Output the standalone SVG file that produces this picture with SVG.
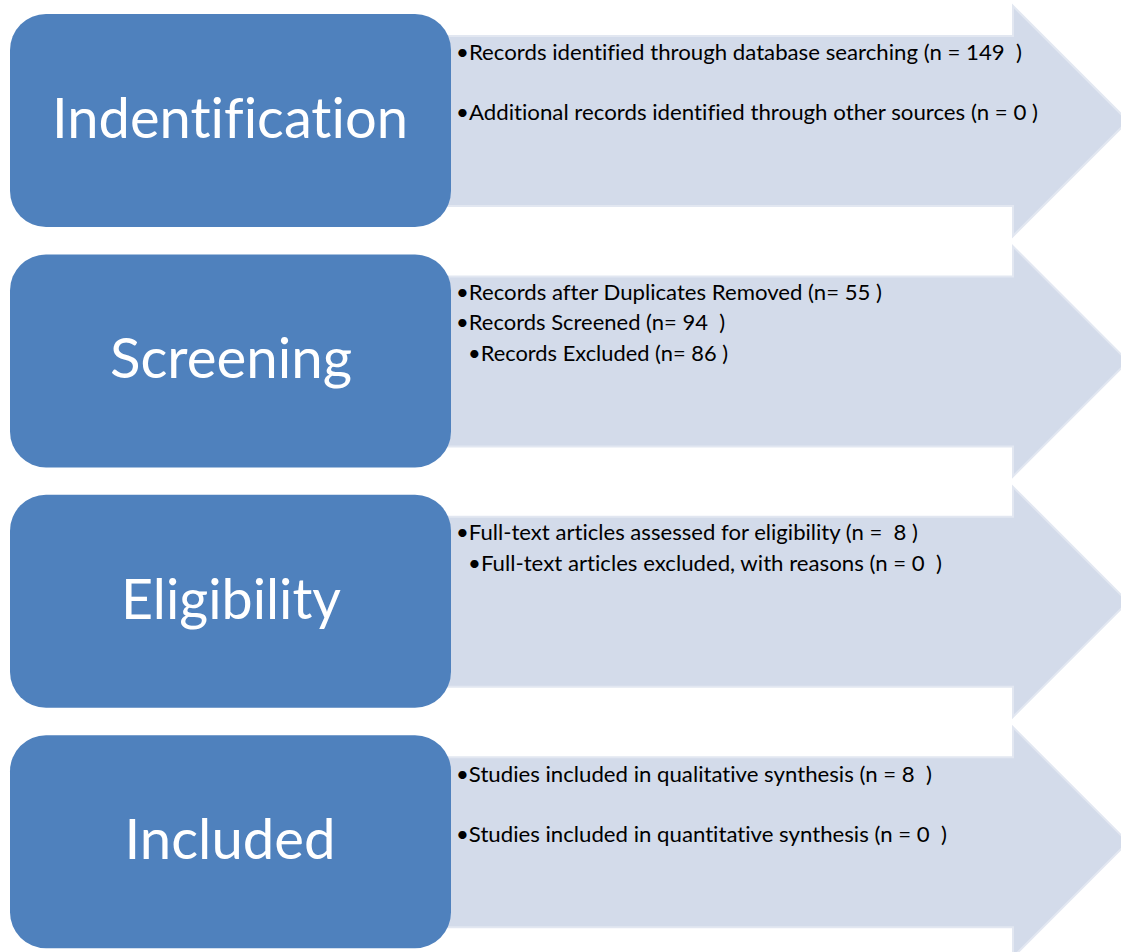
<svg xmlns="http://www.w3.org/2000/svg" width="1121" height="952" viewBox="0 0 1121 952">
  <defs>
    <style>
      .stage { fill: #4f81bd; }
      .stage-label { fill: #ffffff; font-family: Lato, "Open Sans", sans-serif; font-size: 57px; text-anchor: middle; font-variant-ligatures: none; }
      .panel { fill: #d3dbea; stroke: #e2e7f1; stroke-width: 2; stroke-linejoin: miter; }
      .item { fill: #000000; font-family: Lato, "Open Sans", sans-serif; font-size: 22px; white-space: pre; font-variant-ligatures: none; }
    </style>
    <!-- one chevron panel, drawn for the first row and reused per stage -->
    <path id="chevron" class="panel" d="M448,36 H1013 V6 L1128,121 L1013,236 V206 H448 Z"/>
    <rect id="stage-box" class="stage" x="10" y="14" width="441" height="213" rx="36" ry="36"/>
  </defs>

  <!-- Identification -->
  <g id="identification" transform="translate(0,0)">
    <use href="#chevron"/>
    <use href="#stage-box"/>
    <text class="stage-label" x="230" y="138" textLength="356" lengthAdjust="spacingAndGlyphs">Indentification</text>
    <text class="item" x="456" y="60" textLength="566" lengthAdjust="spacingAndGlyphs">•Records identified through database searching (n = 149  )</text>
    <text class="item" x="456" y="120" textLength="582" lengthAdjust="spacingAndGlyphs">•Additional records identified through other sources (n = 0 )</text>
  </g>

  <!-- Screening -->
  <g id="screening" transform="translate(0,240.4)">
    <use href="#chevron"/>
    <use href="#stage-box"/>
    <text class="stage-label" x="231" y="138" textLength="242" lengthAdjust="spacingAndGlyphs">Screening</text>
    <text class="item" x="456" y="59.6" textLength="426" lengthAdjust="spacingAndGlyphs">•Records after Duplicates Removed (n= 55 )</text>
    <text class="item" x="456" y="89.6" textLength="269" lengthAdjust="spacingAndGlyphs">•Records Screened (n= 94  )</text>
    <text class="item" x="468" y="120.6" textLength="260" lengthAdjust="spacingAndGlyphs">•Records Excluded (n= 86 )</text>
  </g>

  <!-- Eligibility -->
  <g id="eligibility" transform="translate(0,480.8)">
    <use href="#chevron"/>
    <use href="#stage-box"/>
    <text class="stage-label" x="231" y="138" textLength="220" lengthAdjust="spacingAndGlyphs">Eligibility</text>
    <text class="item" x="456" y="59.2" textLength="462" lengthAdjust="spacingAndGlyphs">•Full-text articles assessed for eligibility (n =  8 )</text>
    <text class="item" x="468" y="90.2" textLength="474" lengthAdjust="spacingAndGlyphs">•Full-text articles excluded, with reasons (n = 0  )</text>
  </g>

  <!-- Included -->
  <g id="included" transform="translate(0,721.2)">
    <use href="#chevron"/>
    <use href="#stage-box"/>
    <text class="stage-label" x="230" y="138" textLength="211" lengthAdjust="spacingAndGlyphs">Included</text>
    <text class="item" x="456" y="60.8" textLength="476" lengthAdjust="spacingAndGlyphs">•Studies included in qualitative synthesis (n = 8  )</text>
    <text class="item" x="456" y="120.8" textLength="491" lengthAdjust="spacingAndGlyphs">•Studies included in quantitative synthesis (n = 0  )</text>
  </g>
</svg>
